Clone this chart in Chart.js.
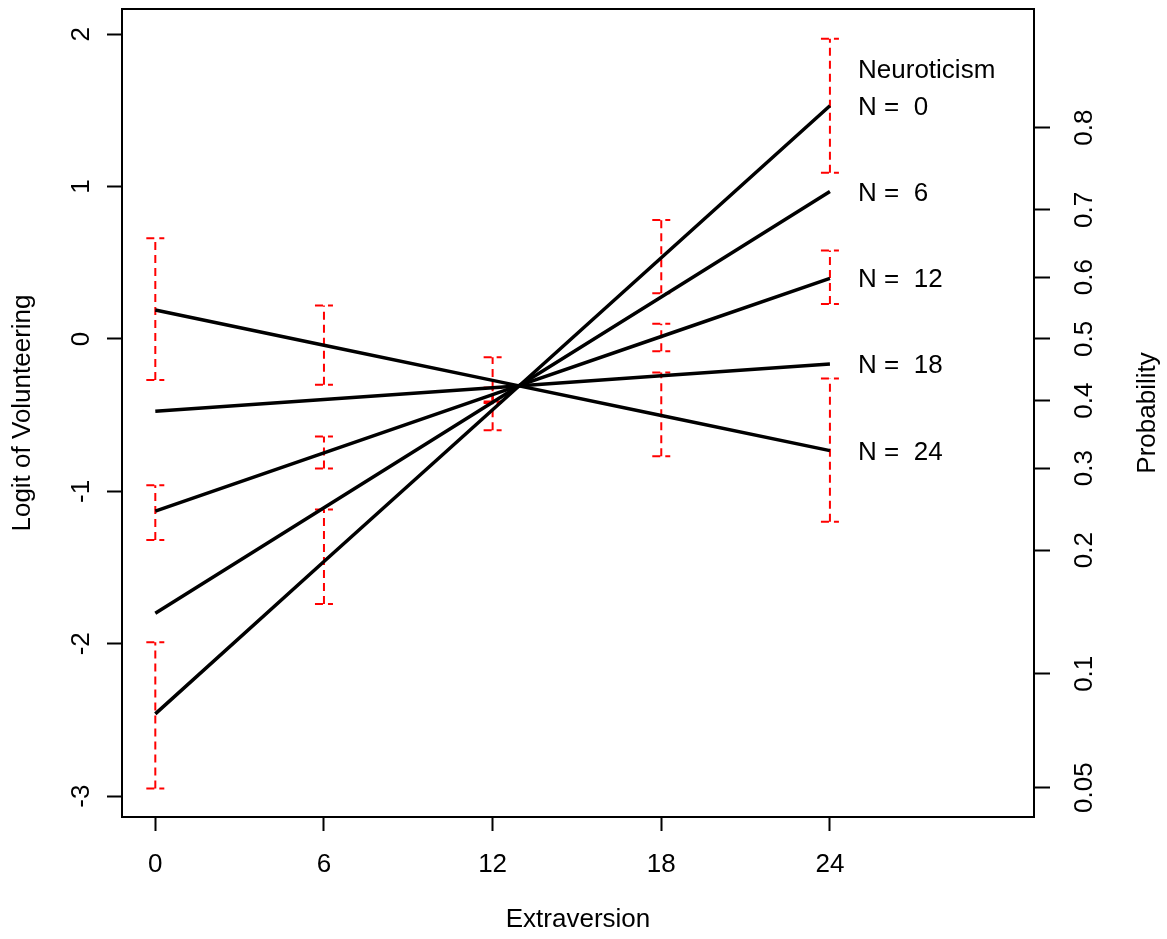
<!DOCTYPE html>
<html>
<head>
<meta charset="utf-8">
<script src="https://cdn.jsdelivr.net/npm/chart.js@4"></script>
<style>
    body { margin: 0; background: #fff; }
    canvas { display: block; }
</style>
</head>
<body>
<canvas id="effectChart" width="1167" height="939"></canvas>
<script>
// Extraversion values where the fitted lines and error bars are read
const xValues = [0, 6, 12, 18, 24];
const neuroLevels = [0, 6, 12, 18, 24];

// Fitted logit for each level of Neuroticism
const logitN0 = [-2.46, -1.46, -0.465, 0.533, 1.53];
const logitN6 = [-1.80, -1.108, -0.416, 0.275, 0.967];
const logitN12 = [-1.13, -0.748, -0.366, 0.016, 0.398];
const logitN18 = [-0.475, -0.397, -0.320, -0.242, -0.164];
const logitN24 = [0.19, -0.041, -0.272, -0.502, -0.733];

// Confidence intervals drawn as red dashed bars
const ciN0Low = [-2.95, -1.74, -0.60, 0.30, 1.09];
const ciN0High = [-1.99, -1.12, -0.32, 0.78, 1.97];
const ciN12Low = [-1.32, -0.85, -0.41, -0.08, 0.23];
const ciN12High = [-0.96, -0.64, -0.32, 0.10, 0.58];
const ciN24Low = [-0.27, -0.30, -0.42, -0.77, -1.20];
const ciN24High = [0.66, 0.22, -0.12, -0.22, -0.26];

// Axis ticks
const xTicks = [0, 6, 12, 18, 24];
const yTicks = [-3, -2, -1, 0, 1, 2];
const probTicks = [0.05, 0.1, 0.2, 0.3, 0.4, 0.5, 0.6, 0.7, 0.8];

// Text placed to the right of the line ends
const labelX = 25;
const titleY = 1.76;

const FONT = '26px "Liberation Sans", Arial, sans-serif';

const logitSeries = [logitN0, logitN6, logitN12, logitN18, logitN24];
const ciBars = [
    { low: ciN0Low, high: ciN0High },
    { low: ciN12Low, high: ciN12High },
    { low: ciN24Low, high: ciN24High }
];

function logit(p) {
    return Math.log(p / (1 - p));
}

function drawRotated(ctx, text, x, y) {
    ctx.save();
    ctx.translate(x, y);
    ctx.rotate(-Math.PI / 2);
    ctx.fillText(text, 0, 0);
    ctx.restore();
}

const rPlotPlugin = {
    id: 'rPlot',
    beforeDatasetsDraw(chart) {
        const ctx = chart.ctx;
        const xs = chart.scales.x;
        const ys = chart.scales.y;
        ctx.save();
        ctx.strokeStyle = '#ff0000';
        ctx.lineWidth = 2;
        ctx.setLineDash([8, 5]);
        ciBars.forEach(bar => {
            xValues.forEach((x, i) => {
                const px = xs.getPixelForValue(x);
                const yLo = ys.getPixelForValue(bar.low[i]);
                const yHi = ys.getPixelForValue(bar.high[i]);
                ctx.beginPath();
                ctx.moveTo(px, yLo);
                ctx.lineTo(px, yHi);
                ctx.moveTo(px - 9, yHi);
                ctx.lineTo(px + 9, yHi);
                ctx.moveTo(px - 9, yLo);
                ctx.lineTo(px + 9, yLo);
                ctx.stroke();
            });
        });
        ctx.restore();
    },
    afterDraw(chart) {
        const ctx = chart.ctx;
        const area = chart.chartArea;
        const xs = chart.scales.x;
        const ys = chart.scales.y;
        const yr = chart.scales.y2;

        ctx.save();
        // plot box
        ctx.strokeStyle = '#000';
        ctx.lineWidth = 2;
        ctx.strokeRect(area.left, area.top, area.right - area.left, area.bottom - area.top);

        ctx.fillStyle = '#000';
        ctx.font = FONT;
        ctx.textAlign = 'center';
        ctx.textBaseline = 'middle';

        // tick labels
        xs.ticks.forEach(t => {
            ctx.fillText(String(t.value), xs.getPixelForValue(t.value), 865);
        });
        ys.ticks.forEach(t => {
            drawRotated(ctx, String(t.value), 82, ys.getPixelForValue(t.value));
        });
        probTicks.forEach(p => {
            drawRotated(ctx, String(p), 1085, yr.getPixelForValue(logit(p)));
        });

        // axis titles
        ctx.fillText('Extraversion', (area.left + area.right) / 2, 920);
        drawRotated(ctx, 'Logit of Volunteering', 23, (area.top + area.bottom) / 2);
        drawRotated(ctx, 'Probability', 1148, (area.top + area.bottom) / 2);

        // line labels
        ctx.textAlign = 'left';
        const lx = xs.getPixelForValue(labelX);
        ctx.fillText('Neuroticism', lx, ys.getPixelForValue(titleY));
        neuroLevels.forEach((n, i) => {
            const series = logitSeries[i];
            ctx.fillText('N =  ' + n, lx, ys.getPixelForValue(series[series.length - 1]) + 2);
        });
        ctx.restore();
    }
};

const tickGrid = (len) => ({
    display: true,
    drawOnChartArea: false,
    drawTicks: true,
    tickLength: len,
    tickWidth: 2,
    tickColor: '#000',
    color: '#000'
});

new Chart(document.getElementById('effectChart'), {
    type: 'scatter',
    data: {
        datasets: logitSeries.map((series, i) => ({
            label: 'N = ' + neuroLevels[i],
            data: series.map((v, j) => ({ x: xValues[j], y: v })),
            showLine: true,
            borderColor: '#000',
            borderWidth: 3.5,
            pointRadius: 0,
            tension: 0,
            yAxisID: 'y'
        }))
    },
    options: {
        responsive: false,
        animation: false,
        layout: { padding: { top: 9, left: 0, right: 0, bottom: 0 } },
        plugins: {
            legend: { display: false },
            tooltip: { enabled: false }
        },
        scales: {
            x: {
                type: 'linear',
                min: -1.185,
                max: 31.26,
                afterBuildTicks: scale => { scale.ticks = xTicks.map(v => ({ value: v })); },
                afterFit: scale => { scale.height = 122; },
                grid: tickGrid(14),
                border: { display: false },
                ticks: { display: false }
            },
            y: {
                type: 'linear',
                position: 'left',
                min: -3.137,
                max: 2.165,
                afterBuildTicks: scale => { scale.ticks = yTicks.map(v => ({ value: v })); },
                afterFit: scale => { scale.width = 122; },
                grid: tickGrid(15),
                border: { display: false },
                ticks: { display: false }
            },
            y2: {
                type: 'linear',
                position: 'right',
                min: -3.137,
                max: 2.165,
                afterBuildTicks: scale => { scale.ticks = probTicks.map(p => ({ value: logit(p) })); },
                afterFit: scale => { scale.width = 133; },
                grid: tickGrid(16),
                border: { display: false },
                ticks: { display: false }
            }
        }
    },
    plugins: [rPlotPlugin]
});
</script>
</body>
</html>
